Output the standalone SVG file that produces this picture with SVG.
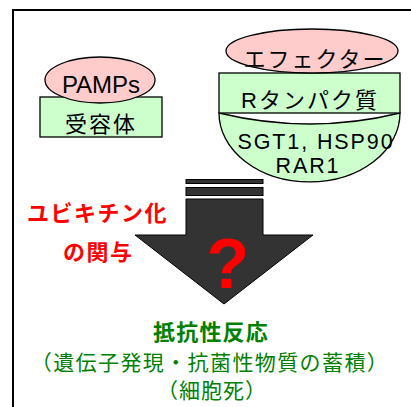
<svg xmlns="http://www.w3.org/2000/svg" width="411" height="407" viewBox="0 0 411 407">
<style>
  .t { font-family: 'Liberation Sans', 'Noto Sans CJK JP', sans-serif; }
  .pink { fill: #ffcccc; stroke: #000; stroke-width: 1.3; }
  .green { fill: #ccffcc; stroke: #000; stroke-width: 1.3; }
  .blk { fill: #000; }
  .red { fill: #ff0000; font-weight: bold; }
  .grn { fill: #008000; }
  .bar { fill: #333333; stroke: #000; stroke-width: 1; }
</style>
<rect width="411" height="407" fill="#fff"/>
<path d="M13,420 V10 H420" fill="none" stroke="#000" stroke-width="2"/>

<g id="receptor">
  <rect class="green" x="40" y="97" width="122" height="40"/>
  <text class="t blk" x="101" y="132" font-size="22" letter-spacing="2" text-anchor="middle">受容体</text>
</g>
<g id="pamps">
  <ellipse class="pink" cx="100" cy="80" rx="55" ry="23"/>
  <text class="t blk" x="101" y="93" font-size="24" text-anchor="middle">PAMPs</text>
</g>

<g id="sgt1">
  <path class="green" d="M219,113 Q310,135 400,113 A90.5,69 0 0 1 219,113 Z"/>
  <text class="t blk" x="316" y="148.5" font-size="21.5" letter-spacing="1.9" text-anchor="middle">SGT1, HSP90</text>
  <text class="t blk" x="308" y="172.5" font-size="21.5" letter-spacing="1.9" text-anchor="middle">RAR1</text>
</g>
<g id="rprotein">
  <rect class="green" x="219" y="73" width="181" height="40"/>
  <text class="t blk" x="310" y="108" font-size="22" letter-spacing="2" text-anchor="middle">Rタンパク質</text>
</g>
<g id="effector">
  <ellipse class="pink" cx="312" cy="51" rx="86" ry="22"/>
  <text class="t blk" x="315" y="67" font-size="22" letter-spacing="2" text-anchor="middle">エフェクター</text>
</g>

<g id="connectors">
  <rect class="bar" x="186" y="179.5" width="77" height="4"/>
  <rect class="bar" x="186" y="187.5" width="77" height="8"/>
  <path class="bar" d="M186,199 H263 V235 H313 L224,304 L135,235 H186 Z"/>
  <text class="t" x="228" y="288" font-size="70" font-weight="bold" fill="#ff0000" text-anchor="middle" font-family="'Liberation Sans', sans-serif">?</text>
</g>

<g id="ubiquitin">
  <text class="t red" x="27" y="221" font-size="22" letter-spacing="1.5">ユビキチン化</text>
  <text class="t red" x="63" y="260" font-size="22" letter-spacing="1.5">の関与</text>
</g>

<g id="response">
  <text class="t grn" x="211" y="340" font-size="22" font-weight="bold" letter-spacing="1.2" text-anchor="middle">抵抗性反応</text>
  <text class="t grn" x="210" y="370" font-size="21" letter-spacing="1.4" text-anchor="middle">（遺伝子発現・抗菌性物質の蓄積）</text>
  <text class="t grn" x="212" y="398" font-size="21" letter-spacing="1" text-anchor="middle">（細胞死）</text>
</g>
</svg>
